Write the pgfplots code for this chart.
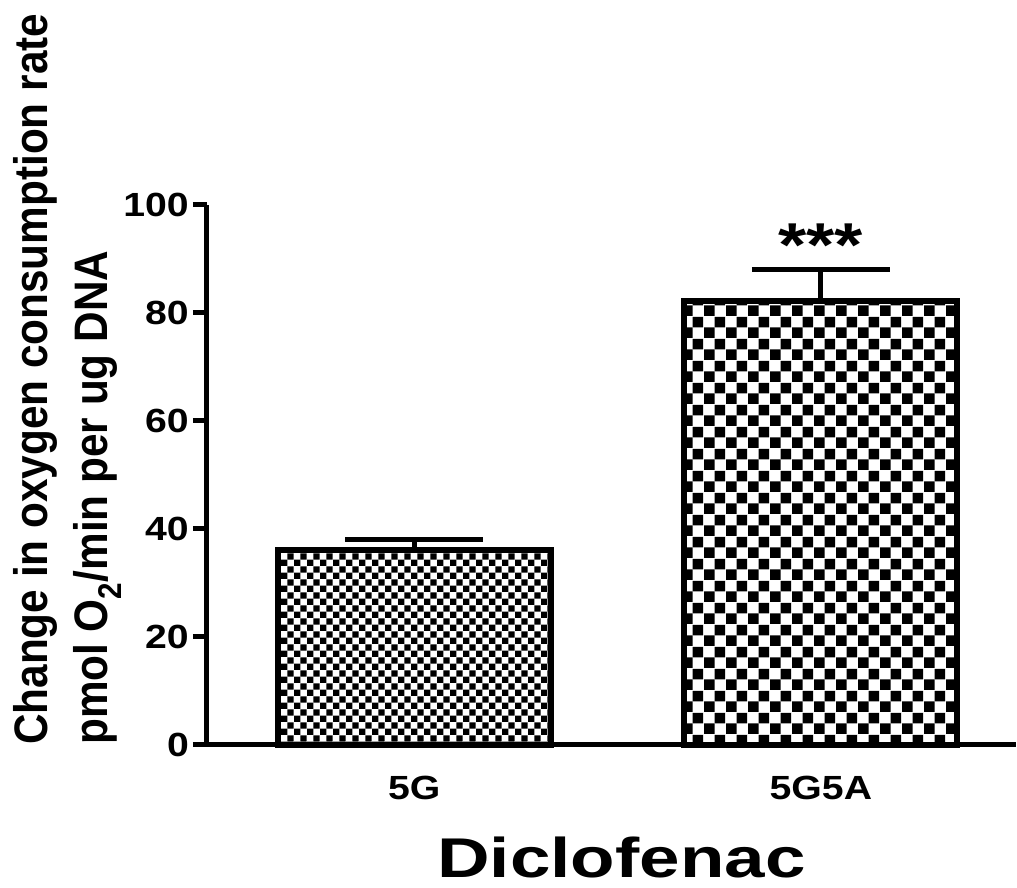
\documentclass[border=0pt]{standalone}
\usepackage{fontspec}
\setmainfont{Liberation Sans}
\newfontfamily\tickf{Liberation Sans Bold}[FakeStretch=1.17]
\newfontfamily\labf{Liberation Sans Bold}[FakeStretch=0.9]
\newfontfamily\xlabf{Liberation Sans Bold}[FakeStretch=1.3]
\usepackage{pgfplots}
\pgfplotsset{compat=1.18}
\usetikzlibrary{patterns.meta}
\tikzdeclarepattern{name=chkfine, type=uncolored,
  bounding box={(0,0) and (12.8pt,12.8pt)}, tile size={(12.8pt,12.8pt)},
  code={\fill (0,0) rectangle (6.4pt,6.4pt); \fill (6.4pt,6.4pt) rectangle (12.8pt,12.8pt);}}
\tikzdeclarepattern{name=chkcoarse, type=uncolored,
  bounding box={(0,0) and (22pt,22pt)}, tile size={(22pt,22pt)},
  code={\fill (0,0) rectangle (11pt,11pt); \fill (11pt,11pt) rectangle (22pt,22pt);}}
\begin{document}
\begin{tikzpicture}
\path[use as bounding box] (-207pt,-143pt) rectangle (810pt,745pt);
\begin{axis}[
  at={(0,0)}, anchor=origin,
  scale only axis, width=809pt, height=540pt,
  xmin=0.49, xmax=2.48, ymin=0, ymax=100,
  axis lines=left, axis line style={-, line width=5pt},
  clip=false,
  xtick={1,2}, xticklabels={5G,5G5A},
  x tick style={draw=none},
  ytick={0,20,...,100},
  y tick style={line width=5pt, black},
  tick align=outside, major tick length=14pt,
  /pgf/number format/assume math mode=true,
  tick label style={font=\tickf\fontsize{33.5}{33.5}\selectfont, inner sep=0pt},
  yticklabel style={xshift=-4pt},
  xticklabel style={yshift=-17pt},
  xlabel={Diclofenac},
  xlabel style={at={(rel axis cs:0.5,0)}, anchor=base, yshift=-132pt, xshift=10pt,
    font=\xlabf\fontsize{56}{56}\selectfont, inner sep=0pt},
  ylabel={Change in oxygen consumption rate\\pmol O\textsubscript{2}/min per ug DNA},
  ylabel style={at={([xshift=-194pt]rel axis cs:0,0)}, anchor=north west, align=left,
    font=\labf\fontsize{47}{60}\selectfont, inner sep=0pt},
  error bars/error bar style={line width=5pt, black},
  error bars/error mark options={rotate=90, mark size=69pt, line width=5pt, black},
]
\addplot[ybar, bar width=0.672, bar shift=0pt, draw=black, line width=6pt,
  pattern=chkfine, pattern color=black,
  error bars/.cd, y dir=plus, y explicit]
  coordinates {(1,36.1) +- (0,2.0)};
\addplot[ybar, bar width=0.672, bar shift=0pt, draw=black, line width=6pt,
  pattern=chkcoarse, pattern color=black,
  error bars/.cd, y dir=plus, y explicit]
  coordinates {(2,82.3) +- (0,5.8)};
\node[font=\tickf\fontsize{62}{62}\selectfont, anchor=center] at (axis cs:2,92.5) {***};
\end{axis}
\end{tikzpicture}
\end{document}
